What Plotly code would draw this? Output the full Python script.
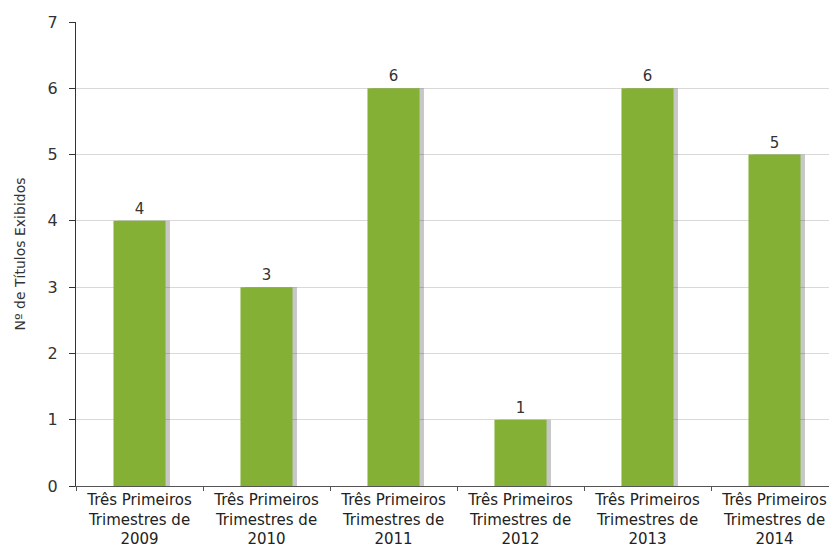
import plotly.graph_objects as go

categories = ["Três Primeiros<br>Trimestres de<br>2009", "Três Primeiros<br>Trimestres de<br>2010",
              "Três Primeiros<br>Trimestres de<br>2011", "Três Primeiros<br>Trimestres de<br>2012",
              "Três Primeiros<br>Trimestres de<br>2013", "Três Primeiros<br>Trimestres de<br>2014"]
values = [4, 3, 6, 1, 6, 5]
y_title = "Nº de Títulos Exibidos"

FONT = "DejaVu Sans"
GREEN = "#84B135"
W = 0.41

fig = go.Figure()
fig.add_trace(go.Bar(x=categories, y=values, width=W, offset=-W/2 + 0.035,
                     marker=dict(color="rgba(0,0,0,0.22)", line=dict(width=0)),
                     hoverinfo="skip", showlegend=False))
fig.add_trace(go.Bar(x=categories, y=values, width=W, offset=-W/2,
                     marker=dict(color=GREEN, line=dict(width=0)),
                     text=[str(v) for v in values], textposition="outside",
                     textfont=dict(family=FONT, size=15, color="#333333"),
                     cliponaxis=False, showlegend=False))

fig.update_layout(
    width=837, height=550,
    margin=dict(l=68, r=7, t=14, b=72),
    paper_bgcolor="white", plot_bgcolor="white",
    barmode="overlay",
    font=dict(family=FONT, size=15, color="#222222"),
)
fig.update_xaxes(type="category", tickson="boundaries", ticks="outside", ticklen=4,
                 tickcolor="#555555", showline=True, linecolor="#555555", linewidth=1,
                 showgrid=False, automargin=False, ticklabelstandoff=0,
                 tickfont=dict(family=FONT, size=15, color="#222222"))
fig.update_yaxes(range=[0, 7], dtick=1, ticks="outside", ticklen=6, tickcolor="#333333",
                 showline=True, linecolor="#333333", linewidth=1, automargin=False,
                 gridcolor="#D9D9D9", zeroline=False, ticklabelstandoff=8,
                 tickfont=dict(family=FONT, size=16, color="#333333"),
                 title=dict(text=y_title, font=dict(family=FONT, size=14, color="#333333"), standoff=18))

fig.write_html("out.html")
